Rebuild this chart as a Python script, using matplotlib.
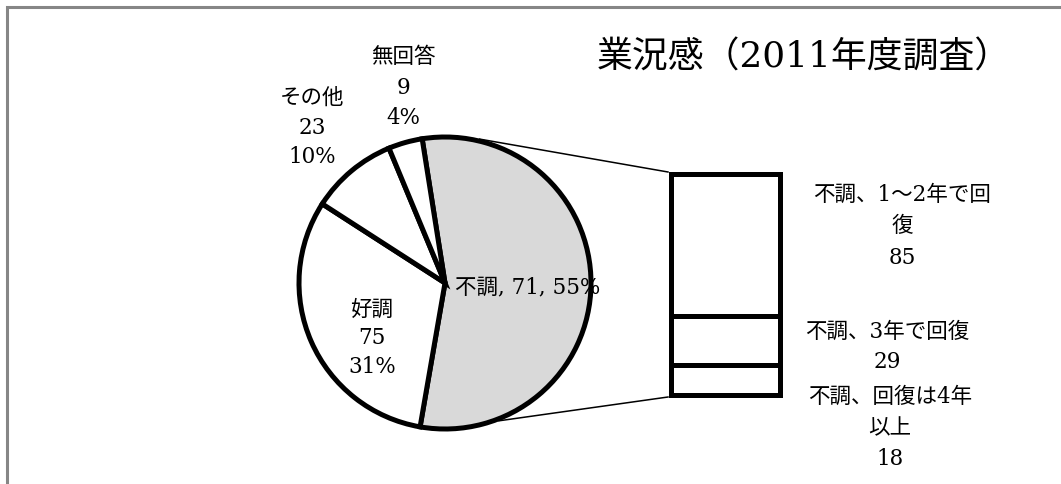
import numpy as np
import matplotlib.pyplot as plt

plt.rcParams['font.family'] = ['DejaVu Serif', 'Noto Sans CJK JP']

# pie slices, clockwise from the top; 不調 is broken out into the bar
pie_names = ['不調', '好調', 'その他', '無回答']
other_counts = [75, 23, 9]
slump_names = ['不調、1〜2年で回\n復', '不調、3年で回復', '不調、回復は4年\n以上']
slump_counts = [85, 29, 18]
slump_count_text = 71   # count as printed on the 不調 label
title = '業況感（2011年度調査）'

pie_counts = [sum(slump_counts)] + other_counts
total = sum(pie_counts)
pcts = [round(100 * c / total) for c in pie_counts]

W, H = 1061, 484
fig = plt.figure(figsize=(W / 100, H / 100), dpi=100)
ax = fig.add_axes([0, 0, 1, 1])

def py(y):
    # pixel rows counted from the top
    return H - y

# pie
cx, cy, r = 445, 283, 146
ax.pie(pie_counts, colors=['#d9d9d9', 'white', 'white', 'white'],
       startangle=99, counterclock=False, center=(cx, py(cy)), radius=r,
       wedgeprops=dict(edgecolor='black', linewidth=3.6))

# stacked bar for the 不調 breakdown, 85 on top
bx, bw = 725, 109
bar_top, bar_bottom = 174.5, 394.5
scale = (bar_bottom - bar_top) / sum(slump_counts)
bottom = py(bar_bottom)
for c in slump_counts[::-1]:
    ax.bar(bx, c * scale, width=bw, bottom=bottom, color='white',
           edgecolor='black', linewidth=3.6, zorder=3)
    bottom += c * scale

# connector lines from the pie to the bar
for ang, (ex, ey) in [(76.5, (668, 172)), (-68.6, (668, 397))]:
    a = np.radians(ang)
    sx, sy = cx + (r + 2) * np.cos(a), py(cy) + (r + 2) * np.sin(a)
    ax.plot([sx, ex], [sy, py(ey)], color='black', lw=1.1, zorder=1)

FS = 15.5

def stack_text(x, y, lines, step, size=FS):
    for i, s in enumerate(lines):
        ax.text(x, py(y + i * step), s, ha='center', va='center',
                fontsize=size, color='black')

# pie labels
stack_text(372, 310, [pie_names[1], str(other_counts[0]), f'{pcts[1]}%'], 28.5)
stack_text(312, 98, [pie_names[2], str(other_counts[1]), f'{pcts[2]}%'], 29.5)
stack_text(403, 57, [pie_names[3], str(other_counts[2]), f'{pcts[3]}%'], 30.5)
ax.text(455, py(287), f'{pie_names[0]}, {slump_count_text}, {pcts[0]}%',
        ha='left', va='center', fontsize=FS, color='black', zorder=5)

# bar labels
for (x, y, step), name, c in zip([(902, 195, 31.5), (887, 332, 30), (890, 397, 31)],
                                 slump_names, slump_counts):
    stack_text(x, y, name.split('\n') + [str(c)], step)

ax.text(804, py(58), title, ha='center', va='center', fontsize=25.8, color='black')

# chart area border (top and left edges)
ax.plot([7, 7, W], [0, py(7), py(7)], color='#868686', lw=2.2,
        solid_joinstyle='miter', clip_on=False)

ax.set_xlim(0, W)
ax.set_ylim(0, H)
ax.set_aspect('auto')
ax.axis('off')

fig.savefig('out.png', dpi=100)
